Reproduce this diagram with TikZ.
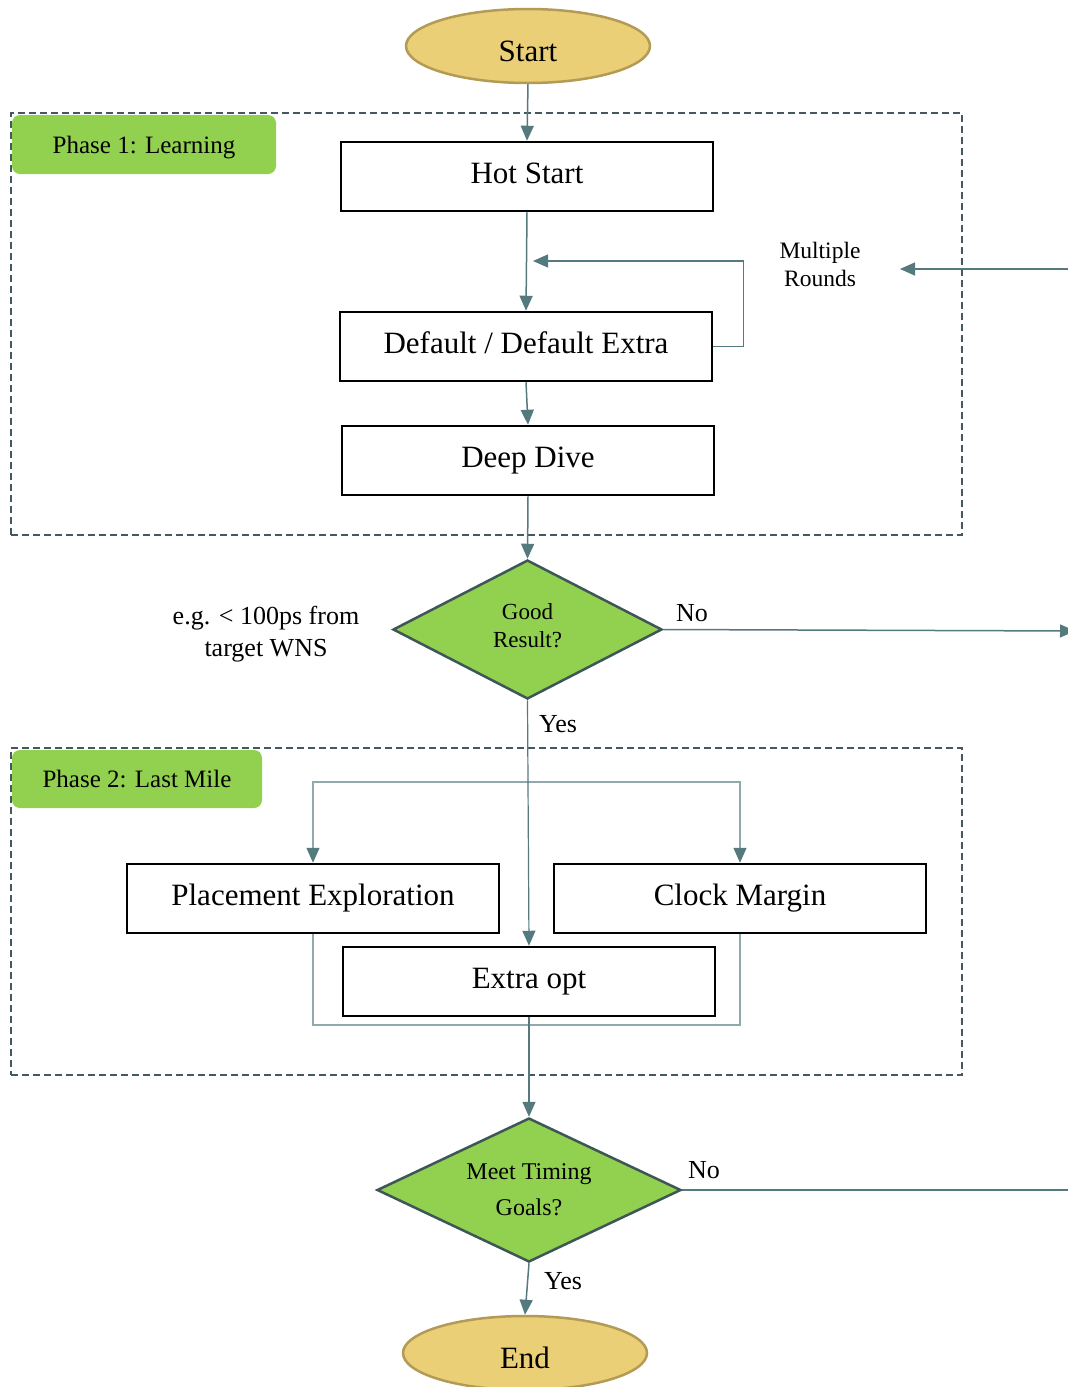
\documentclass[tikz,border=0pt]{standalone}
\usepackage{fontspec}
\setmainfont{Liberation Serif}
\usetikzlibrary{arrows.meta,shapes.geometric}
\definecolor{conn}{HTML}{557A7E}
\definecolor{connlight}{HTML}{8FA9AC}
\definecolor{dashc}{HTML}{44595F}
\definecolor{phasegreen}{HTML}{92D050}
\definecolor{gold}{HTML}{EACF77}
\definecolor{goldedge}{HTML}{B39B55}
\definecolor{diaedge}{HTML}{3E5656}
\begin{document}
\begin{tikzpicture}[x=1pt,y=-1pt,
  proc/.style={draw=black,line width=2.5pt,minimum width=372pt,minimum height=69pt,inner sep=0pt,text height=21.2pt,text depth=6.7pt,font=\fontsize{31}{36}\selectfont},
  term/.style={ellipse,draw=goldedge,fill=gold,line width=2.5pt,minimum width=244pt,minimum height=74pt,inner sep=0pt,text height=30.5pt,text depth=0pt,font=\fontsize{31}{36}\selectfont},
  decision/.style={diamond,draw=diaedge,fill=phasegreen,line width=2.5pt,inner sep=0pt,align=center},
  phase/.style={fill=phasegreen,rounded corners=8pt,inner sep=0pt,font=\fontsize{25}{30}\selectfont},
  region/.style={draw=dashc,line width=1.5pt,dash pattern=on 7pt off 4pt,inner sep=0pt},
  tip/.style={-{Triangle[length=15pt,width=13pt,color=conn,fill=conn]}},
  flow/.style={draw=conn,line width=1.5pt,tip},
  lightflow/.style={draw=connlight,line width=1.3pt,tip},
  lightline/.style={draw=connlight,line width=1.3pt},
  plainline/.style={draw=conn,line width=1.5pt},
  lbl/.style={inner sep=0pt,align=center,font=\fontsize{26}{32}\selectfont}
]
\useasboundingbox (0,0) rectangle (1068,1387);

% regions
\node[region,minimum width=951pt,minimum height=422pt] (reg1) at (486.5,324) {};
\node[region,minimum width=951pt,minimum height=327pt] (reg2) at (486.5,911.5) {};
\node[phase,minimum width=264pt,minimum height=59pt,text height=23pt,text depth=5.4pt] (ph1) at (144,144.5) {Phase 1: Learning};
\node[phase,minimum width=250pt,minimum height=58pt] (ph2) at (137,779) {Phase 2: Last Mile};

% nodes
\node[term] (start) at (528,46) {Start};
\node[proc] (hot) at (527,176.5) {Hot Start};
\node[proc] (def) at (526,346.5) {Default / Default Extra};
\node[proc] (deep) at (528,460.5) {Deep Dive};
\node[decision,minimum width=269pt,minimum height=139pt,shape aspect=1.94,font=\fontsize{23}{28}\selectfont,text depth=8pt] (good) at (527.5,629.5) {Good\\Result?};
\node[proc] (place) at (313,898.5) {Placement Exploration};
\node[proc] (clock) at (740,898.5) {Clock Margin};
\node[proc] (extra) at (529,981.5) {Extra opt};
\node[decision,minimum width=304pt,minimum height=144pt,shape aspect=2.1,font=\fontsize{24}{36}\selectfont] (meet) at (529,1190) {Meet Timing\\Goals?};
\node[term] (end) at (525,1353) {End};

% labels
\node[lbl,font=\fontsize{23.5}{28}\selectfont] (mr) at (820,264) {Multiple\\Rounds};
\node[lbl] (eg) at (266,634) {e.g. < 100ps from\\target WNS};
\node[lbl] (no1) at (692,613) {No};
\node[lbl] (yes1) at (558,724) {Yes};
\node[lbl] (no2) at (704,1170) {No};
\node[lbl] (yes2) at (563,1281) {Yes};

% coordinates
\coordinate (loopin) at (533,261);
\coordinate (rin) at (1075,269);
\coordinate (rtip) at (900,269);
\coordinate (noout) at (1075,631);
\coordinate (noout2) at (1075,1190);
\coordinate (fk) at (528,782);
\coordinate (mg) at (528,1025);

% connectors
\draw[flow] (start.south) -- (hot.north);
\draw[flow] (hot.south) -- (def.north);
\draw[flow] (def.south) -- (deep.north);
\draw[flow] (deep.south) -- (good.north);
\draw[flow,line width=1.2pt] (def.east) -- ++(30,0) |- (loopin);
\draw[flow] (rin) -- (rtip);
\draw[flow] (good.east) -- (noout);
\draw[lightflow] (fk) -| (place.north);
\draw[lightflow] (fk) -| (clock.north);
\draw[flow,line width=1.2pt] (good.south) -- (extra.north);
\draw[lightline] (place.south) |- (mg) -| (clock.south);
\draw[flow] (extra.south) -- (meet.north);
\draw[plainline] (meet.east) -- (noout2);
\draw[flow] (meet.south) -- (end.north);
\end{tikzpicture}
\end{document}
